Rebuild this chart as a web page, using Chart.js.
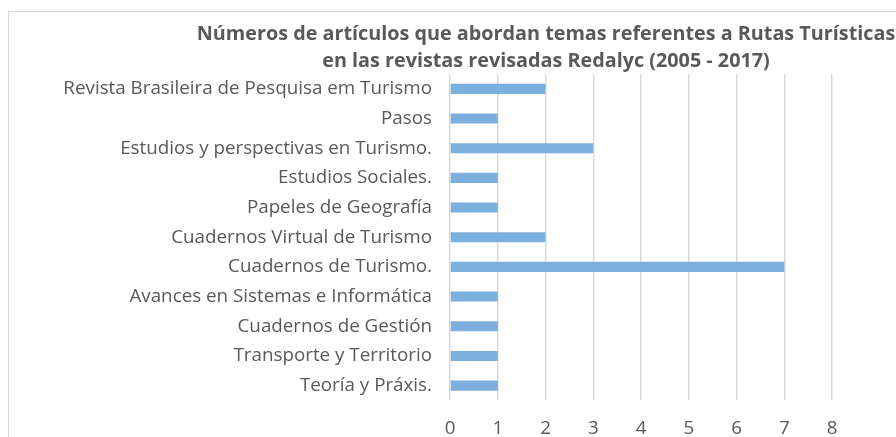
<!DOCTYPE html>
<html>
<head>
<meta charset="utf-8">
<script src="https://cdn.jsdelivr.net/npm/chart.js@4.4.1/dist/chart.umd.min.js"></script>
<style>
  html, body { margin: 0; padding: 0; background: #fff; overflow: hidden; width: 896px; height: 437px; }
  #frame { position: absolute; left: 8px; top: 11px; width: 1074px; height: 452px;
           border-left: 1px solid #d9d9d9; border-top: 1px solid #d9d9d9; }
</style>
</head>
<body>
<div id="frame"><canvas id="chart" width="1074" height="452"></canvas></div>
<script>
// revistas (de arriba hacia abajo, como en la figura)
const revistas = [
    'Revista Brasileira de Pesquisa em Turismo',
    'Pasos',
    'Estudios y perspectivas en Turismo.',
    'Estudios Sociales.',
    'Papeles de Geografía',
    'Cuadernos Virtual de Turismo',
    'Cuadernos de Turismo.',
    'Avances en Sistemas e Informática',
    'Cuadernos de Gestión',
    'Transporte y Territorio',
    'Teoría y Práxis.'
];
// número de artículos por revista
const articulos = [2, 1, 3, 1, 1, 2, 7, 1, 1, 1, 1];
const tituloLineas = [
    'Números de artículos que abordan temas referentes a Rutas Turísticas',
    'en las revistas revisadas Redalyc (2005 - 2017)'
];
const ejeMin = 0, ejeMax = 8, ejePaso = 1;

const gris = '#595959';
const ctx = document.getElementById('chart').getContext('2d');

// título centrado sobre todo el marco del gráfico (el marco sigue a la derecha)
const tituloPlugin = {
    id: 'tituloMarco',
    afterDraw(chart) {
        const c = chart.ctx;
        c.save();
        c.fillStyle = gris;
        c.font = 'bold 19.8px "Open Sans"';
        c.textAlign = 'center';
        c.textBaseline = 'middle';
        tituloLineas.forEach((linea, i) => c.fillText(linea, chart.width / 2, 22 + i * 27));
        c.restore();
    }
};

new Chart(ctx, {
    type: 'bar',
    data: {
        labels: revistas,
        datasets: [{
            data: articulos,
            backgroundColor: 'rgb(123, 175, 222)',
            borderWidth: 0,
            categoryPercentage: 1,
            barPercentage: 0.34
        }]
    },
    options: {
        indexAxis: 'y',
        responsive: false,
        animation: false,
        layout: { padding: { left: 0, right: 251, top: 62, bottom: 7 } },
        scales: {
            x: {
                min: ejeMin,
                max: ejeMax,
                ticks: {
                    stepSize: ejePaso,
                    padding: 17,
                    color: gris,
                    font: { family: 'Open Sans', size: 18.8 }
                },
                grid: { color: '#d9d9d9', lineWidth: 1.5, drawTicks: false },
                border: { display: false }
            },
            y: {
                afterFit: (scale) => { scale.width = 441; },
                ticks: {
                    padding: 18,
                    color: gris,
                    font: { family: 'Open Sans', size: 18.8 }
                },
                grid: { display: false, drawTicks: false },
                border: { display: false }
            }
        },
        plugins: {
            legend: { display: false },
            tooltip: { enabled: false },
            title: { display: false }
        }
    },
    plugins: [tituloPlugin]
});
</script>
</body>
</html>
